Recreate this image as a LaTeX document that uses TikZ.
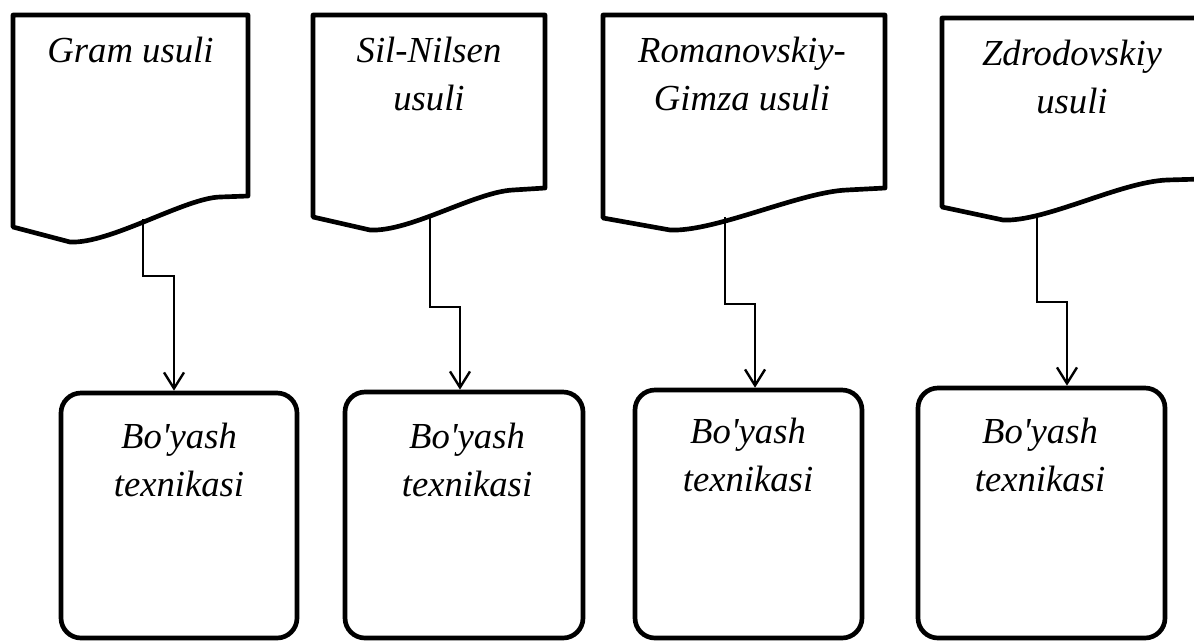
\documentclass[tikz,border=0pt]{standalone}
\usepackage{fontspec}
\setmainfont{Liberation Serif}
\usetikzlibrary{arrows.meta}

\tikzset{every picture/.style={line width=0.75pt}}

\begin{document}
\begin{tikzpicture}[x=0.75pt,y=0.75pt,yscale=-1,xscale=1,
	docline/.style={line width=3.5pt,line join=round},
	washbox/.style={draw,line width=3.5pt,rounded corners=15pt,inner sep=0pt},
	conn/.style={line width=1.8pt,-{Straight Barb[length=12pt,width=15pt]}},
	lbl/.style={inner sep=0.75pt,align=center,font=\itshape\fontsize{27.5}{36}\selectfont}]
			\useasboundingbox (0,0) rectangle (1194,643);
			\clip (0,0) rectangle (1194,643);

			%Shape: Document [Gram]
			\draw[docline] (13,15) -- (248,15) -- (248,196) -- (220,197) .. controls (185,198) and (110,244) .. (70,242) -- (13,227) -- cycle ;
			%Shape: Document [Sil-Nilsen]
			\draw[docline] (313,15) -- (545,15) -- (545,188) -- (513,190) .. controls (475,192) and (410,232) .. (370,230) -- (313,217) -- cycle ;
			%Shape: Document [Romanovskiy-Gimza]
			\draw[docline] (603,15) -- (885,15) -- (885,188) -- (847,190) .. controls (800,192) and (715,232) .. (670,230) -- (603,218) -- cycle ;
			%Shape: Document [Zdrodovskiy]
			\draw[docline] (942,18) -- (1202,18) -- (1202,179) -- (1167,180) .. controls (1120,182) and (1045,222) .. (1003,220) -- (942,207) -- cycle ;

			%Shape: Rounded Rect
			\node[washbox,minimum width=177pt,minimum height=183.75pt] (b1) at (179,515.5) {};
			%Shape: Rounded Rect
			\node[washbox,minimum width=178.5pt,minimum height=184.5pt] (b2) at (464,515) {};
			%Shape: Rounded Rect
			\node[washbox,minimum width=170.25pt,minimum height=186pt] (b3) at (748.5,514) {};
			%Shape: Rounded Rect
			\node[washbox,minimum width=185.25pt,minimum height=187.5pt] (b4) at (1041.5,513) {};

			% Connector ends
			\coordinate (s1) at (143,219);
			\coordinate (s2) at (430,218);
			\coordinate (s3) at (725,217);
			\coordinate (s4) at (1037,214);
			\coordinate (e1) at ([xshift=-3.75pt]b1.north);
			\coordinate (e2) at ([xshift=-3pt]b2.north);
			\coordinate (e3) at ([xshift=4.9pt]b3.north);
			\coordinate (e4) at ([xshift=19.1pt]b4.north);

			%Elbow Connectors
			\draw[conn] (s1) -- ++(0,57) -| (e1);
			\draw[conn] (s2) -- ++(0,89) -| (e2);
			\draw[conn] (s3) -- ++(0,87) -| (e3);
			\draw[conn] (s4) -- ++(0,88) -| (e4);

			% Text Node
			\draw (130.5,36) node [lbl,anchor=north] (m1) {Gram usuli};
			% Text Node
			\draw (429,36) node [lbl,anchor=north] (m2) {Sil-Nilsen\\usuli};
			% Text Node
			\draw (742,36) node [lbl,anchor=north] (m3) {Romanovskiy-\\Gimza usuli};
			% Text Node
			\draw (1072,39) node [lbl,anchor=north] (m4) {Zdrodovskiy\\usuli};
			% Text Node
			\draw (179,422) node [lbl,anchor=north] (t1) {Bo\textquotesingle yash\\texnikasi};
			% Text Node
			\draw (467,422) node [lbl,anchor=north] (t2) {Bo\textquotesingle yash\\texnikasi};
			% Text Node
			\draw (748,417) node [lbl,anchor=north] (t3) {Bo\textquotesingle yash\\texnikasi};
			% Text Node
			\draw (1040,417) node [lbl,anchor=north] (t4) {Bo\textquotesingle yash\\texnikasi};

\end{tikzpicture}
\end{document}
